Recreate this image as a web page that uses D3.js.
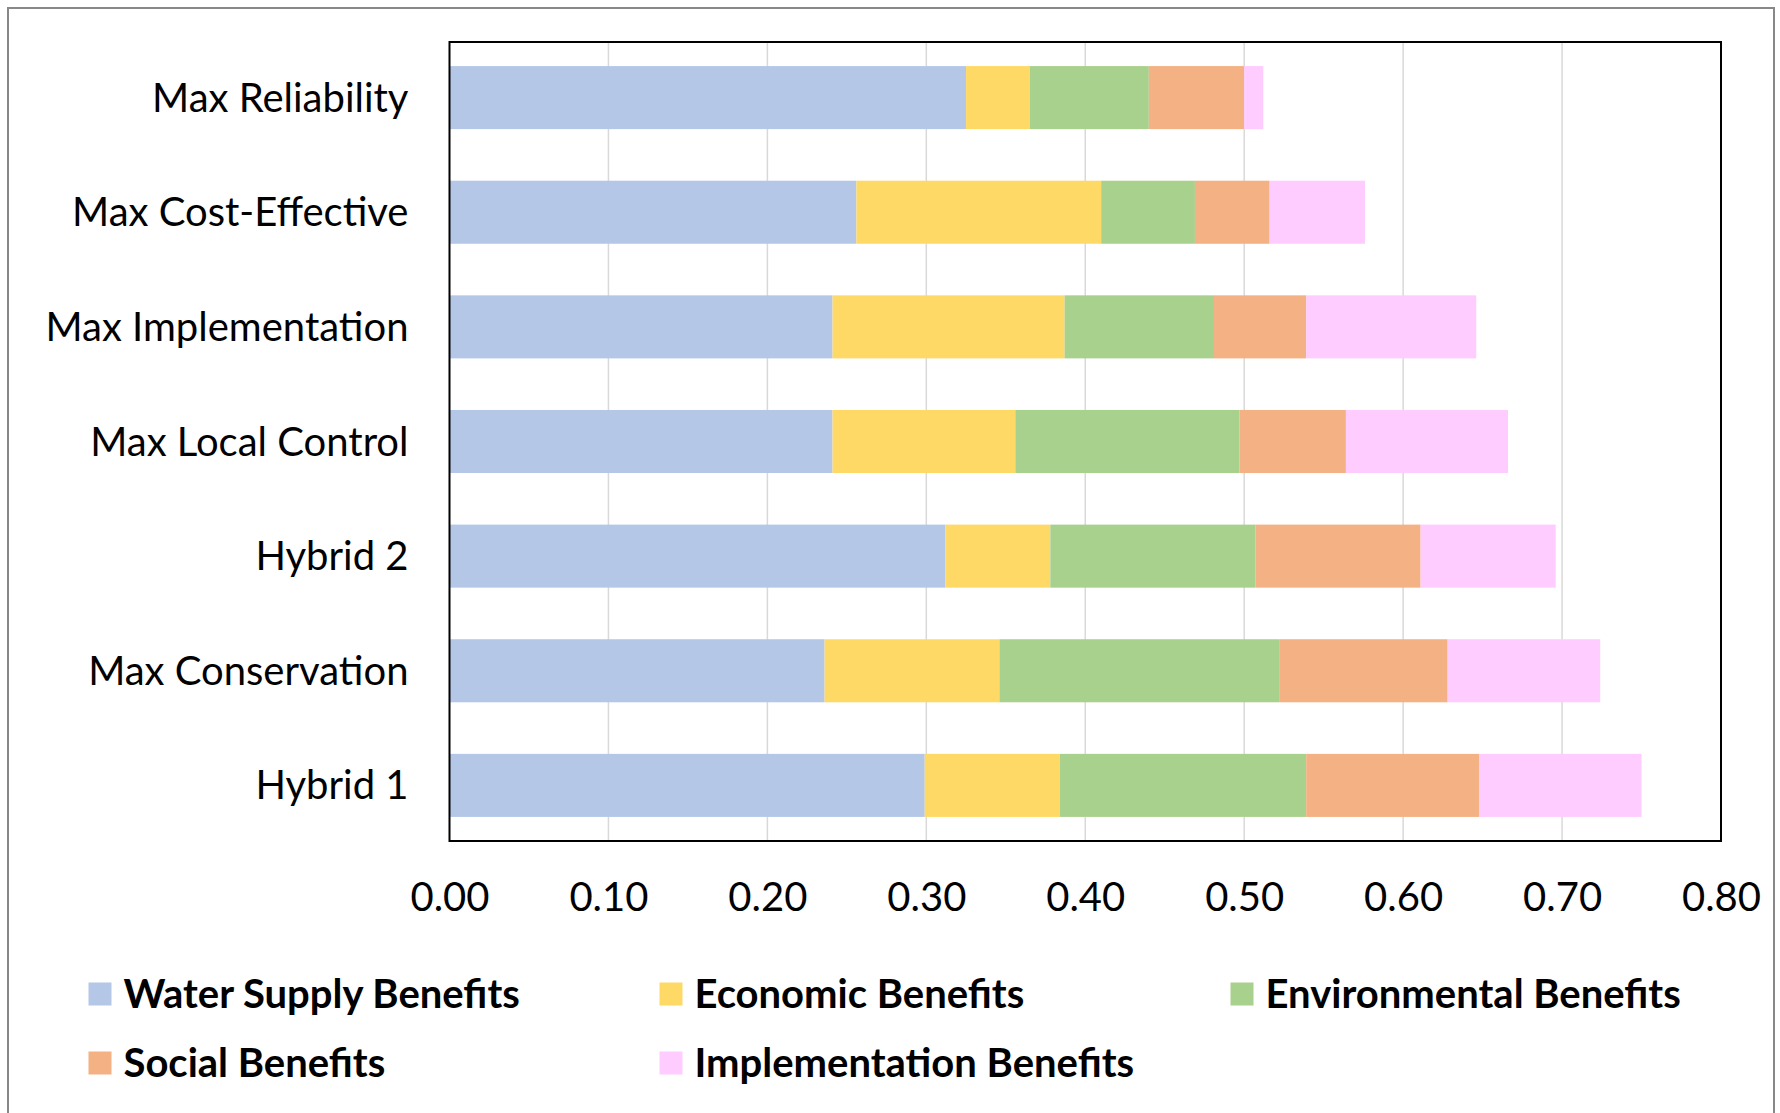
<!DOCTYPE html>
<html>
<head>
<meta charset="utf-8">
<script src="https://cdn.jsdelivr.net/npm/d3@7"></script>
<style>
body{margin:0;background:#fff;}
text{font-family:Lato,"Open Sans",sans-serif;fill:#000;}
</style>
</head>
<body>
<div id="chart"></div>
<script>

let width= 1780;
let height= 1113;

let categories= ["Max Reliability","Max Cost-Effective","Max Implementation","Max Local Control","Hybrid 2","Max Conservation","Hybrid 1"];
let seriesNames= ["Water Supply Benefits","Economic Benefits","Environmental Benefits","Social Benefits","Implementation Benefits"];
let waterSupply= [0.325,0.256,0.241,0.241,0.312,0.236,0.299];
let economic= [0.040,0.154,0.146,0.115,0.066,0.110,0.085];
let environmental= [0.075,0.059,0.094,0.141,0.129,0.176,0.155];
let social= [0.060,0.047,0.058,0.067,0.104,0.106,0.109];
let implementation= [0.012,0.060,0.107,0.102,0.085,0.096,0.102];
let xTicks= [0,0.1,0.2,0.3,0.4,0.5,0.6,0.7,0.8];
let colors= ["#B4C7E7","#FFD966","#A9D18E","#F4B183","#FFCCFF"];

let plot= {left:449.5, right:1721, top:42, bottom:841};

let rows= categories.map((c,i)=>({
    cat:c,
    "Water Supply Benefits":waterSupply[i],
    "Economic Benefits":economic[i],
    "Environmental Benefits":environmental[i],
    "Social Benefits":social[i],
    "Implementation Benefits":implementation[i]
}));

let stacked= d3.stack().keys(seriesNames)(rows);

let x= d3.scaleLinear().domain([0,0.8]).range([plot.left,plot.right]);
let y= d3.scaleBand().domain(categories).range([plot.top,plot.bottom]).paddingInner(0.45).paddingOuter(0.21);
let color= d3.scaleOrdinal().domain(seriesNames).range(colors);

let chart= d3.select("#chart")
.append("svg")
.attr("width",width).attr("height",height);

chart.append("rect")
.attr("x",8).attr("y",8)
.attr("width",1766).attr("height",1120)
.attr("fill","#fff")
.attr("stroke","#888").attr("stroke-width",2);

chart.append("g").attr("class","grid")
.selectAll("line")
.data(xTicks.slice(1,-1))
.enter()
.append("line")
.attr("x1",d=>x(d)).attr("x2",d=>x(d))
.attr("y1",plot.top).attr("y2",plot.bottom)
.attr("stroke","#D9D9D9").attr("stroke-width",1.5);

chart.append("g").attr("class","bars")
.selectAll("g")
.data(stacked)
.enter()
.append("g")
.attr("fill",d=>color(d.key))
.selectAll("rect")
.data(d=>d)
.enter()
.append("rect")
.attr("x",d=>x(d[0]))
.attr("width",d=>x(d[1])-x(d[0]))
.attr("y",d=>y(d.data.cat))
.attr("height",y.bandwidth());

chart.append("rect")
.attr("x",plot.left).attr("y",plot.top)
.attr("width",plot.right-plot.left).attr("height",plot.bottom-plot.top)
.attr("fill","none")
.attr("stroke","#000").attr("stroke-width",2);

let xAxis= d3.axisBottom(x).tickValues(xTicks).tickFormat(d3.format(".2f")).tickSize(0).tickPadding(40);
chart.append("g")
.attr("transform","translate(0,"+plot.bottom+")")
.call(xAxis)
.call(g=>g.select(".domain").remove())
.selectAll("text")
.attr("font-family",null)
.attr("font-size",40)
.attr("dy","0.75em");

let yAxis= d3.axisLeft(y).tickSize(0).tickPadding(41);
chart.append("g")
.attr("transform","translate("+plot.left+",0)")
.call(yAxis)
.call(g=>g.select(".domain").remove())
.selectAll("text")
.attr("font-family",null)
.attr("font-size",40)
.attr("dy","0.35em");

let legendX= [88.5,659.5,1230.5];
let legendY= [994,1063];
let legend= chart.append("g").attr("class","legend")
.selectAll("g")
.data(seriesNames)
.enter()
.append("g")
.attr("transform",(d,i)=>"translate("+legendX[i%3]+","+legendY[Math.floor(i/3)]+")");

legend.append("rect")
.attr("x",0).attr("y",-11.5)
.attr("width",23).attr("height",23)
.attr("fill",d=>color(d));

legend.append("text")
.text(d=>d)
.attr("x",35)
.attr("dy","0.35em")
.attr("font-size",40)
.attr("font-weight","bold");

</script>
</body>
</html>
